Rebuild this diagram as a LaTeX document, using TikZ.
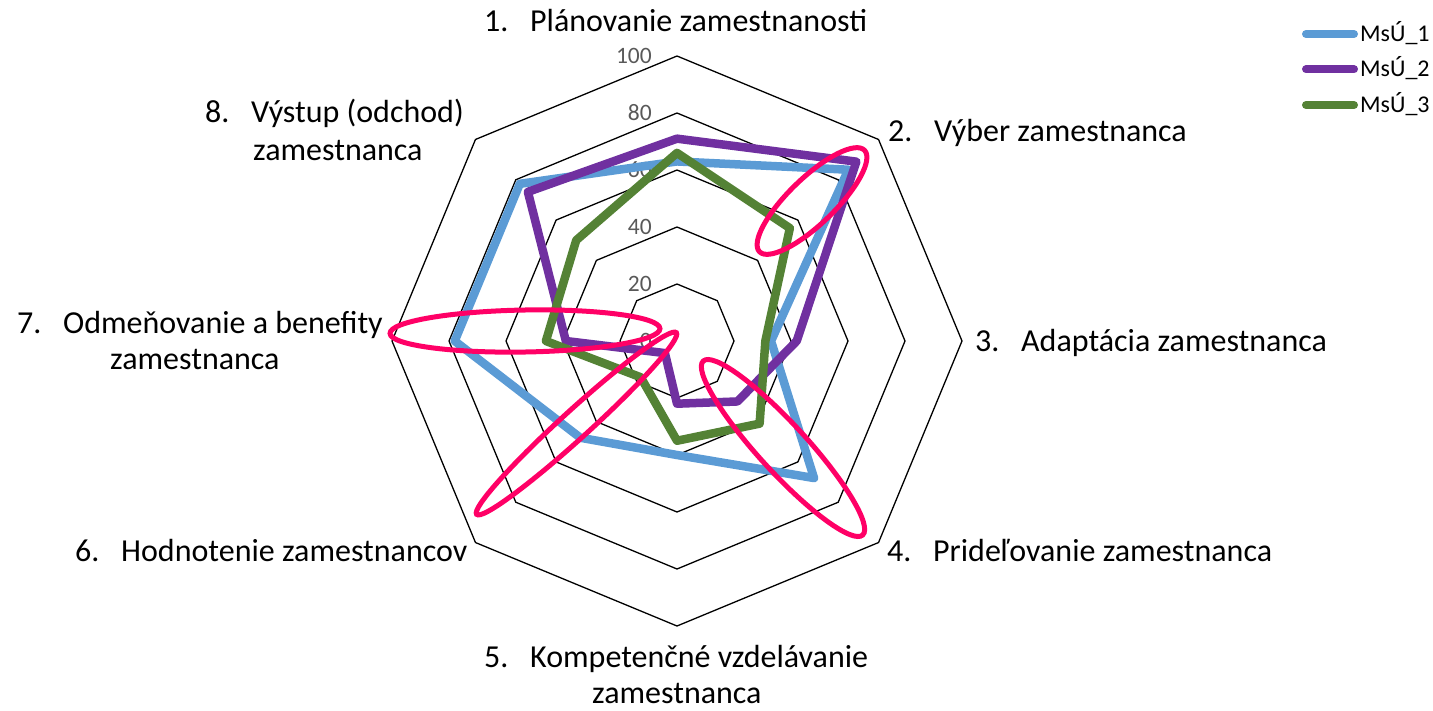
\documentclass[tikz,border=0pt]{standalone}
\usepackage{fontspec}
\setmainfont{Carlito}

\definecolor{msublue}{HTML}{5B9BD5}
\definecolor{msupurple}{HTML}{7030A0}
\definecolor{msugreen}{HTML}{548235}
\definecolor{hilite}{HTML}{FF0066}
\definecolor{ticktext}{HTML}{595959}

\tikzset{
  grid ring/.style={draw=black, line width=1.3pt, line join=miter},
  series/.style={line width=8.5pt, line join=round, line cap=round},
  highlight/.style={draw=hilite, line width=5pt},
  axis label/.style={anchor=base west, inner sep=0pt, font=\fontsize{32}{38}\selectfont},
  tick label/.style={anchor=east, inner sep=0pt, text=ticktext, font=\fontsize{23.5}{28}\selectfont},
  legend label/.style={anchor=base west, inner sep=0pt, font=\fontsize{24}{28}\selectfont},
  legend line/.style={line width=8pt, line cap=round},
}

% numbered label: number in a fixed-width box, then the text
\newcommand{\itemno}[1]{\makebox[46pt][l]{#1}}

% one closed radar polygon from eight values (0..100), axis 1 at the top, clockwise
\newcommand{\radarline}[9]{%
  \draw[series,#1] (-90:{2.85*#2}) -- (-45:{2.85*#3}) -- (0:{2.85*#4}) -- (45:{2.85*#5})
    -- (90:{2.85*#6}) -- (135:{2.85*#7}) -- (180:{2.85*#8}) -- (225:{2.85*#9}) -- cycle;}

\begin{document}
\begin{tikzpicture}[x=1pt,y=-1pt]
\useasboundingbox (0,0) rectangle (1433,710);

% radar chart centred on the common origin of the eight axes
\begin{scope}[shift={(677,341)}]
  \foreach \v in {20,40,60,80,100} {
    \pgfmathsetmacro\rr{2.85*\v}
    \draw[grid ring] (-90:\rr) -- (-45:\rr) -- (0:\rr) -- (45:\rr) -- (90:\rr)
      -- (135:\rr) -- (180:\rr) -- (225:\rr) -- cycle;
  }
  \foreach \v in {0,20,40,60,80,100} {
    \node[tick label] (tick\v) at (-25,{-2.85*\v}) {\v};
  }
  \radarline{msublue}{63}{85}{33}{68}{40}{48}{78}{78}
  \radarline{msupurple}{71}{89}{42}{30}{22}{6}{39}{74}
  \radarline{msugreen}{66}{56}{31}{41}{35}{18}{46}{50}
\end{scope}

% highlighted areas
\draw[highlight, rotate around={44:(812,201)}] (812,201) ellipse [x radius=73pt, y radius=23pt];
\draw[highlight, rotate around={1:(525,331)}] (525,331) ellipse [x radius=135pt, y radius=21pt];
\draw[highlight, rotate around={42.3:(576.5,423.5)}] (576.5,423.5) ellipse [x radius=135pt, y radius=14pt];
\draw[highlight, rotate around={-47.5:(783,448)}] (783,448) ellipse [x radius=118pt, y radius=24pt];

% axis labels
\node[axis label] (lab1) at (484,31) {\itemno{1.}Plánovanie zamestnanosti};
\node[axis label] (lab2) at (888,141) {\itemno{2.}Výber zamestnanca};
\node[axis label] (lab3) at (975,351) {\itemno{3.}Adaptácia zamestnanca};
\node[axis label] (lab4) at (887,561) {\itemno{4.}Prideľovanie zamestnanca};
\node[axis label] (lab5a) at (484,667) {\itemno{5.}Kompetenčné vzdelávanie};
\node[axis label] (lab5b) at (592,703) {zamestnanca};
\node[axis label] (lab6) at (75,561) {\itemno{6.}Hodnotenie zamestnancov};
\node[axis label] (lab7a) at (17,333) {\itemno{7.}Odmeňovanie a benefity};
\node[axis label] (lab7b) at (110,369) {zamestnanca};
\node[axis label] (lab8a) at (205,122) {\itemno{8.}Výstup (odchod)};
\node[axis label] (lab8b) at (253,160) {zamestnanca};

% legend
\coordinate (leg1a) at (1306,34);   \coordinate (leg1b) at (1354,34);
\coordinate (leg2a) at (1306,69.3); \coordinate (leg2b) at (1354,69.3);
\coordinate (leg3a) at (1306,105);  \coordinate (leg3b) at (1354,105);
\draw[legend line, msublue] (leg1a) -- (leg1b);
\draw[legend line, msupurple] (leg2a) -- (leg2b);
\draw[legend line, msugreen] (leg3a) -- (leg3b);
\node[legend label] (legtext1) at (1360,41.7) {MsÚ\_1};
\node[legend label] (legtext2) at (1360,76.8) {MsÚ\_2};
\node[legend label] (legtext3) at (1360,112.2) {MsÚ\_3};
\end{tikzpicture}
\end{document}
